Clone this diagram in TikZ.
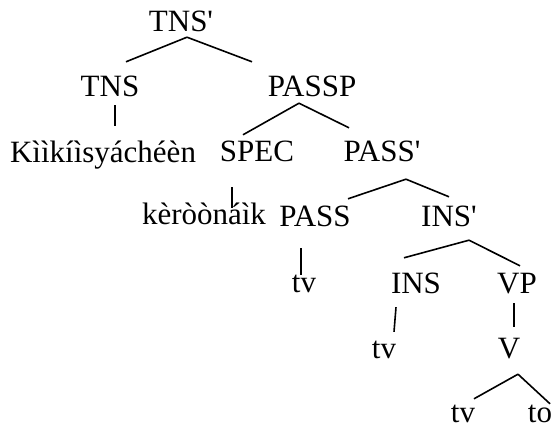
\documentclass[tikz,border=0pt]{standalone}
\usepackage{fontspec}
\setmainfont{Liberation Serif}
\usepackage{tikz}
\usetikzlibrary{
    calc
}
\tikzset{
    label/.style={
        anchor=base,
        inner sep=0pt,
        text height=21pt,
        text depth=0pt
    }
}
\tikzset{
    branch/.style={
        draw=black,
        line width=1.6pt
    }
}

\begin{document}
\begin{tikzpicture}[
    x=1pt,
    y=-1pt,
    font=\fontsize{31}{37}\selectfont
]

\useasboundingbox (0,0) rectangle (553,427);

% ------------------------------------------------------------
% Upper levels
% ------------------------------------------------------------

\node[label] (tnsbar) at (181,32) {TNS\textquotesingle};

\node[label] (tns) at (110,97) {TNS};

\node[label] (passp) at (312,97) {PASSP};

\node[label] (verb) at (103,163) {Kììkíìsyáchéèn};

\node[label] (spec) at (257,162) {SPEC};

\node[label] (passbar) at (382,162) {PASS\textquotesingle};

\node[label] (subject) at (204,225) {kèròònáìk};

% ------------------------------------------------------------
% Lower levels
% ------------------------------------------------------------

\node[label] (pass) at (315,227) {PASS};

\node[label] (insbar) at (449,227) {INS\textquotesingle};

\node[label] (passtrace) at (304,292) {tv};

\node[label] (ins) at (416,293) {INS};

\node[label] (vp) at (517,293) {VP};

\node[label] (instrace) at (384,358) {tv};

\node[label] (v) at (509,358) {V};

\node[label] (vtrace) at (463,422) {tv};

\node[label] (obj) at (540,422) {to};

% ------------------------------------------------------------
% Branches
% ------------------------------------------------------------

\draw[branch]
    ($(tnsbar.south)+(6,5)$) -- ($(tns.north)+(16,-14)$);
\draw[branch]
    ($(tnsbar.south)+(6,5)$) -- ($(passp.north)+(-60,-14)$);

\draw[branch]
    ($(tns.south)+(5,8)$) -- ($(verb.north)+(12,-16)$);

\draw[branch]
    ($(passp.south)+(-13,6)$) -- ($(spec.north)+(-14,-6)$);
\draw[branch]
    ($(passp.south)+(-13,6)$) -- ($(passbar.north)+(-33,-13)$);

\draw[branch]
    ($(spec.south)+(-25,25)$) -- ($(subject.north)+(28,4)$);

\draw[branch]
    ($(passbar.south)+(24,17)$) -- ($(pass.north)+(33,-7)$);
\draw[branch]
    ($(passbar.south)+(24,17)$) -- ($(insbar.north)+(0,-9)$);

\draw[branch]
    ($(pass.south)+(-14,21)$) -- ($(passtrace.north)+(-3,4)$);

\draw[branch]
    ($(insbar.south)+(20,13)$) -- ($(ins.north)+(-12,-14)$);
\draw[branch]
    ($(insbar.south)+(20,13)$) -- ($(vp.north)+(3,-6)$);

\draw[branch]
    ($(ins.south)+(-20,14)$) -- ($(instrace.north)+(10,-5)$);

\draw[branch]
    ($(vp.south)+(-3,10)$) -- ($(v.north)+(5,-10)$);

\draw[branch]
    ($(v.south)+(9,16)$) -- ($(vtrace.north)+(11,-2)$);
\draw[branch]
    ($(v.south)+(9,16)$) -- ($(obj.north)+(10,3)$);

\end{tikzpicture}
\end{document}
